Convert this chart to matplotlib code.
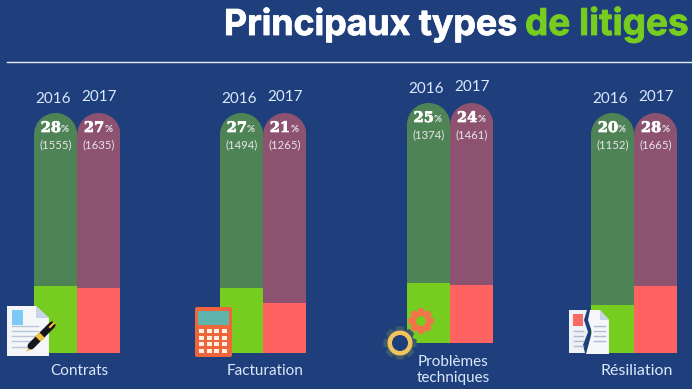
#!/usr/bin/env python3
"""Principaux types de litiges: share of disputes per category, 2016 vs 2017."""

import math

import matplotlib
matplotlib.use('Agg')
import matplotlib.pyplot as plt
import matplotlib.patheffects as pe
from matplotlib.patches import Circle, Ellipse, Polygon, Rectangle, FancyBboxPatch

# Data
categories = ['Contrats', 'Facturation', 'Problèmes\ntechniques', 'Résiliation']
years = ['2016', '2017']
pct_2016 = [28, 27, 25, 20]
pct_2017 = [27, 21, 24, 28]
count_2016 = [1555, 1494, 1374, 1152]
count_2017 = [1635, 1265, 1461, 1665]

# Layout in pixels of the original picture: left edge and baseline of each group
W, H = 692, 389
group_left = [34, 220, 407, 591]
group_base = [353, 353, 343, 353]
BAR_W = 43.2
TRACK_H = 240

BG = '#1f3f7c'
GREEN_DARK = '#4e8455'
GREEN = '#76cc1f'
MAROON = '#8d5270'
RED = '#ff6361'
LABEL = '#dce8fb'

plt.rcParams['font.family'] = ['Lato', 'DejaVu Sans']

fig = plt.figure(figsize=(W / 100, H / 100), dpi=100, facecolor=BG)


def draw_bars(i):
    left, base = group_left[i], group_base[i]
    ax = fig.add_axes([left / W, 1 - base / H, 2 * BAR_W / W, TRACK_H / H])
    ax.set_xlim(0, 2)
    ax.set_ylim(0, 100)
    ax.axis('off')
    cap = BAR_W / (TRACK_H / 100)  # cap diameter in % units
    for x, col in [(0.5, GREEN_DARK), (1.5, MAROON)]:
        ax.bar(x, 100 - cap / 2, width=1, color=col, linewidth=0)
        ax.add_patch(Ellipse((x, 100 - cap / 2), 1, cap, color=col, lw=0))
    ax.bar(0.5, pct_2016[i], width=1, color=GREEN, linewidth=0)
    ax.bar(1.5, pct_2017[i], width=1, color=RED, linewidth=0)


for i in range(len(categories)):
    draw_bars(i)

# Overlay in pixel coordinates for texts, rule and icons
top = fig.add_axes([0, 0, 1, 1])
top.set_xlim(0, W)
top.set_ylim(H, 0)
top.axis('off')
top.patch.set_alpha(0)

top.text(224, 35, 'Principaux types', color='white', fontsize=25.7, fontweight='bold',
         fontfamily=['Inter', 'DejaVu Sans'], va='baseline',
         path_effects=[pe.withStroke(linewidth=0.6, foreground='white')])
top.text(525, 35, 'de litiges', color=GREEN, fontsize=26.6, fontweight='bold',
         fontfamily=['Inter', 'DejaVu Sans'], va='baseline',
         path_effects=[pe.withStroke(linewidth=0.6, foreground=GREEN)])
top.plot([7, W], [62, 62], color='#e6edf7', lw=1.0)

for i in range(len(categories)):
    left, base = group_left[i], group_base[i]
    bar_top = base - TRACK_H
    for x, pct, n in [(0.5, pct_2016[i], count_2016[i]), (1.5, pct_2017[i], count_2017[i])]:
        px = left + x * BAR_W
        top.text(px + 5.5, bar_top + 15, f'{pct}', color='white', fontsize=10.5, fontweight='bold',
                 ha='right', va='center', fontfamily='DejaVu Serif',
                 path_effects=[pe.withStroke(linewidth=0.5, foreground='white')])
        top.text(px + 5.5, bar_top + 16, '%', color='#e8e4ea', fontsize=7, fontweight='bold',
                 ha='left', va='center')
        top.text(px, bar_top + 32, f'({n})', color='#e8e4ea', fontsize=8.2, ha='center', va='center')
    top.text(left + 19.5, bar_top - 14, years[0], color=LABEL, fontsize=11, ha='center', va='center')
    top.text(left + 65, bar_top - 16, years[1], color=LABEL, fontsize=11, ha='center', va='center')

top.text(79.5, 371, categories[0], color=LABEL, fontsize=11, ha='center', va='center')
top.text(265.5, 371, categories[1], color=LABEL, fontsize=11, ha='center', va='center')
top.text(453, 370, categories[2], color=LABEL, fontsize=11, ha='center', va='center', linespacing=1.15)
top.text(637, 371, categories[3], color=LABEL, fontsize=11.5, ha='center', va='center')

# Contract icon
top.add_patch(Polygon([(7, 306), (36, 306), (49, 318), (49, 356), (7, 356)], color='#f4f6fa', lw=0))
top.add_patch(Polygon([(36, 306), (49, 318), (36, 318)], color='#c9d3ea', lw=0))
top.add_patch(Rectangle((12, 310), 11, 15, color='#7cc9f6', lw=0))
for y in [326, 331, 336, 341, 347]:
    top.plot([12, 30 if y > 340 else 38], [y, y], color='#b9c6d8', lw=1)
top.plot([31, 52], [346, 325], color='#16161c', lw=5, solid_capstyle='round')
top.plot([38, 42], [339, 335], color='#f2c23e', lw=5.5, solid_capstyle='butt')
top.plot([50, 54], [327, 323], color='#f2c23e', lw=1.5)
top.add_patch(Polygon([(26, 352), (30, 344), (34, 348)], color='#f2c23e', lw=0))

# Calculator icon
top.add_patch(FancyBboxPatch((195, 307), 37, 50, boxstyle='round,pad=0,rounding_size=2', color='#f0663c', lw=0))
top.add_patch(Rectangle((198, 311), 31, 14, color='#5fb4ac', lw=0))
for row in range(4):
    for col in range(4):
        top.add_patch(Rectangle((199 + col * 7.6, 329 + row * 6.5), 5, 4.2, color='#fdf1e2', lw=0))


def gear(cx, cy, r_out, r_in, r_hole, color, hole, teeth=8):
    pts = []
    step = 2 * math.pi / teeth
    for k in range(teeth):
        a = k * step
        for da, r in [(-0.3, r_in), (-0.16, r_out), (0.16, r_out), (0.3, r_in)]:
            pts.append((cx + r * math.cos(a + da * step * 1.6), cy + r * math.sin(a + da * step * 1.6)))
    top.add_patch(Polygon(pts, color=color, lw=0))
    top.add_patch(Circle((cx, cy), r_hole, color=hole, lw=0))


# Gear icons
gear(421, 321, 13, 10, 5, '#f3734b', '#76cc1f')
gear(400, 343, 17, 13.5, 12.5, '#3c5a6c', '#f1c45d')
top.add_patch(Circle((400, 343), 8, color=BG, lw=0))

# Torn document icon
top.add_patch(Polygon([(569, 310), (587, 310), (584, 320), (588, 332), (583, 345), (585, 353), (569, 353)],
                      color='#eef1f6', lw=0))
top.add_patch(Polygon([(590, 310), (600, 310), (609, 320), (609, 354), (586, 354), (589, 343), (592, 332), (588, 320)],
                      color='#f4f6fa', lw=0))
top.add_patch(Polygon([(600, 310), (609, 320), (600, 320)], color='#c9d3ea', lw=0))
top.add_patch(Rectangle((573, 314), 10, 12, color='#f96a63', lw=0))
for y in [331, 336, 341, 346]:
    top.plot([574, 583], [y, y], color='#aebcd2', lw=1)
    top.plot([594, 605], [y - 5, y - 5], color='#aebcd2', lw=1)

fig.savefig('out.png', dpi=100, facecolor=BG)
